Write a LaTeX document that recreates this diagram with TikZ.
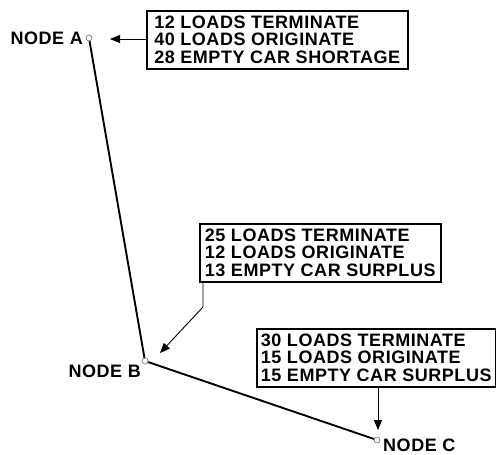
\documentclass[tikz,border=0pt]{standalone}
\usepackage{fontspec}
\setmainfont{Liberation Sans}[LetterSpace=3]
\usetikzlibrary{arrows.meta}
\tikzset{
  lbl/.style={font=\fontsize{18}{17.5}\selectfont\bfseries, inner sep=0pt},
  infobox/.style={draw, line width=1.5pt, align=left, inner sep=0pt,
    font=\fontsize{18}{17.5}\selectfont\bfseries, minimum height=58pt},
  dot/.style={circle, draw=black!60, line width=0.6pt, minimum size=6pt, inner sep=0pt},
  edge/.style={line width=1.9pt},
  arr/.style={line width=0.9pt, -{Triangle[length=10pt,width=8pt]}}
}
\begin{document}
\begin{tikzpicture}[x=1pt,y=-1pt]
\useasboundingbox (0,0) rectangle (496,455);
\node[dot] (A) at (89,38) {};
\node[dot] (B) at (145,361) {};
\node[dot] (C) at (377,440) {};
\node[lbl, anchor=base east] (la) at (83,45) {NODE A};
\node[lbl, anchor=base east] (lb) at (141,377) {NODE B};
\node[lbl, anchor=base west] (lc) at (383,451) {NODE C};
\draw[edge] (A) -- (B);
\draw[edge] (B) -- (C);
\node[infobox, minimum width=261pt, anchor=north west] (bA) at (146,10)
  {12 LOADS TERMINATE\\40 LOADS ORIGINATE\\28 EMPTY CAR SHORTAGE};
\node[infobox, minimum width=241pt, anchor=north west] (bB) at (199,223)
  {25 LOADS TERMINATE\\12 LOADS ORIGINATE\\13 EMPTY CAR SURPLUS};
\node[infobox, minimum width=239pt, anchor=north west] (bC) at (256,328)
  {30 LOADS TERMINATE\\15 LOADS ORIGINATE\\15 EMPTY CAR SURPLUS};
\coordinate (tA) at (110,39);
\coordinate (kB) at (203,307);
\coordinate (tB) at (160,353);
\coordinate (tC) at (378,430);
\draw[arr] (bA.west |- tA) -- (tA);
\draw[arr] (bB.south -| kB) -- (kB) -- (tB);
\draw[arr] (bC.south -| tC) -- (tC);
\end{tikzpicture}
\end{document}
